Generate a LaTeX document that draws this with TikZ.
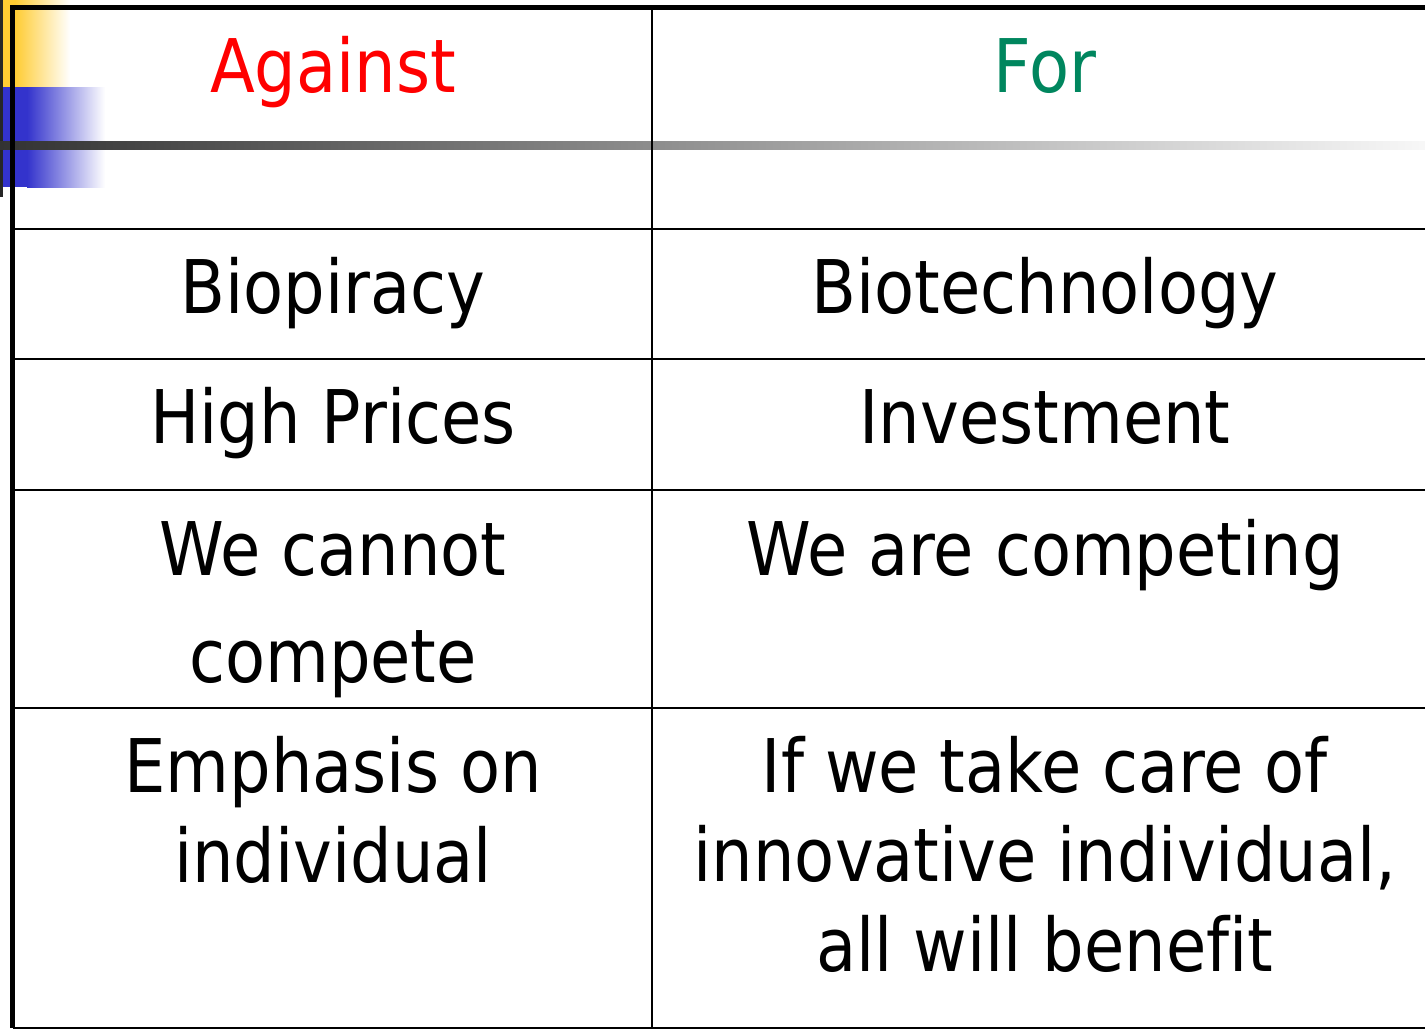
\documentclass[tikz,border=0pt]{standalone}
\usepackage{fontspec}
\setmainfont{DejaVu Sans}[FakeStretch=0.885,Ligatures=NoCommon]
\usepackage{tikz}
\usetikzlibrary{calc}
\definecolor{againstred}{RGB}{255,0,0}
\definecolor{forgreen}{RGB}{0,134,94}
\definecolor{barblue}{RGB}{51,51,204}
\definecolor{baryellow}{RGB}{255,204,51}
\tikzset{
    cell/.style={inner sep=0pt,align=center,anchor=base,font=\fontsize{37}{44.75}\selectfont},
    rule/.style={line width=1.4pt,black},
    frame/.style={line width=2.6pt,black}
}

\begin{document}
\begin{tikzpicture}[x=0.5pt,y=-0.5pt]
    \useasboundingbox (0,0) rectangle (1425,1030);

    % corner bars
    \fill[baryellow] (3,0) rectangle (15,87);
    \shade[left color=baryellow,right color=white] (15,0) rectangle (70,87);
    \fill[barblue] (3,87) rectangle (27,187);
    \shade[left color=barblue,right color=white] (27,87) rectangle (105,187);
    \fill[black!85] (0,0) rectangle (3,197);
    \shade[left color=black!80,right color=black!3] (0,141) rectangle (1425,149);

    \coordinate (TL) at (12.5,7.5);
    \coordinate (TR) at (1440,7.5);
    \coordinate (BL) at (12.5,1028);
    \coordinate (BR) at (1440,1028);
    \coordinate (MT) at (652,7.5);
    \coordinate (MB) at (652,1028);

    \foreach \y in {229,359,490,708}
        \draw[rule] (12.5,\y) -- (1440,\y);
    \draw[rule] (MT) -- (MB);
    \draw[rule] (BL) -- (BR);
    \draw[frame] (BL) -- (TL) -- (TR);

    % base is the last line
    \node[cell,text=againstred] (against) at (333,92) {Against};
    \node[cell,text=forgreen] (for) at (1045,92) {For};

    \node[cell] (biopiracy) at (333,313) {Biopiracy};
    \node[cell] (biotech) at (1045,313) {Biotechnology};
    \node[cell] (prices) at (333,443) {High Prices};
    \node[cell] (invest) at (1045,443) {Investment};
    \node[cell] (cannot) at (333,682) {We cannot\\[8.75pt]compete};
    \node[cell] (competing) at (1045,575) {We are competing};
    \node[cell] (emphasis) at (333,882) {Emphasis on\\individual};
    \node[cell] (care) at (1045,971) {If we take care of\\innovative individual,\\all will benefit};
\end{tikzpicture}
\end{document}
